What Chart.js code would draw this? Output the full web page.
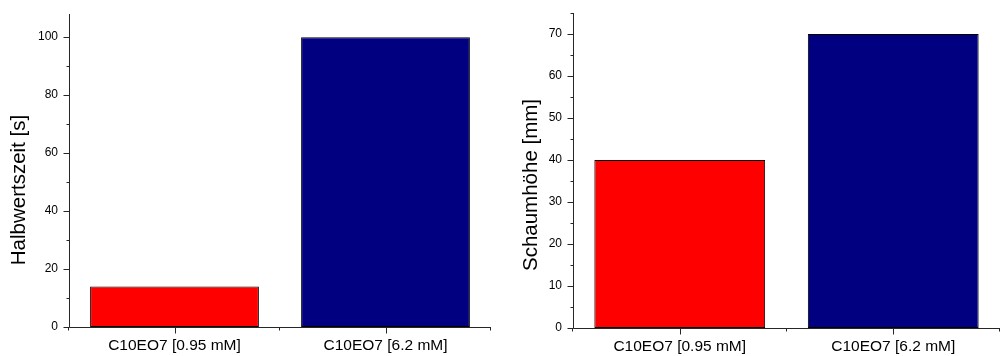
<!DOCTYPE html>
<html>
<head>
<meta charset="utf-8">
<script src="https://cdn.jsdelivr.net/npm/chart.js@4"></script>
<style>
  html, body { margin: 0; padding: 0; background: #fff; }
  #wrap { position: relative; width: 1000px; height: 356px; overflow: hidden; }
  .panel { position: absolute; top: 0; width: 500px; height: 356px; }
  #p1 { left: 0; }
  #p2 { left: 500px; }
</style>
</head>
<body>
<div id="wrap">
  <div class="panel" id="p1"><canvas id="c1" width="500" height="356"></canvas></div>
  <div class="panel" id="p2"><canvas id="c2" width="500" height="356"></canvas></div>
</div>
<script>
// Samples and measured values
const categories = ['C10EO7 [0.95 mM]', 'C10EO7 [6.2 mM]'];
const halbwertszeit = [14, 100];      // s
const schaumhoehe = [40, 70];         // mm
const barColors = ['#ff0000', '#000080'];

// Axis tick values
const halbwertszeitTicks = [0, 20, 40, 60, 80, 100];
const halbwertszeitMinor = [10, 30, 50, 70, 90];
const schaumhoeheTicks = [0, 10, 20, 30, 40, 50, 60, 70];
const schaumhoeheMinor = [5, 15, 25, 35, 45, 55, 65, 75];

const FONT = '"Liberation Sans", Arial, Helvetica, sans-serif';

// Draws the L-shaped axes with outward major/minor ticks and the rotated y title
const axesPlugin = {
  id: 'frameAxes',
  afterDraw(chart, args, opts) {
    const { ctx, chartArea: a, scales: { x, y } } = chart;
    const left = Math.round(a.left) + 0.5;
    const bottom = Math.round(a.bottom) + 0.5;
    ctx.save();
    ctx.strokeStyle = '#262626';
    ctx.lineWidth = 1;
    ctx.beginPath();
    ctx.moveTo(left, Math.round(a.top));
    ctx.lineTo(left, bottom);
    ctx.lineTo(Math.round(a.right), bottom);
    // y major / minor ticks
    opts.major.forEach(v => {
      const py = Math.round(y.getPixelForValue(v)) + 0.5;
      ctx.moveTo(left, py); ctx.lineTo(left - 6, py);
    });
    opts.minor.forEach(v => {
      const py = Math.round(y.getPixelForValue(v)) + 0.5;
      ctx.moveTo(left, py); ctx.lineTo(left - 3, py);
    });
    // x ticks: major at category centres, minor at category boundaries
    categories.forEach((c, i) => {
      const px = Math.round(x.getPixelForValue(i)) + 0.5;
      ctx.moveTo(px, bottom); ctx.lineTo(px, bottom + 6);
    });
    for (let i = 0; i <= categories.length; i++) {
      const px = Math.round(x.getPixelForValue(i - 0.5)) - 0.5;
      ctx.moveTo(px, bottom); ctx.lineTo(px, bottom + 3);
    }
    ctx.stroke();

    // rotated axis title
    ctx.fillStyle = '#000';
    ctx.font = '20.5px ' + FONT;
    ctx.textAlign = 'center';
    ctx.textBaseline = 'middle';
    ctx.translate(opts.titleX, opts.titleY);
    ctx.rotate(-Math.PI / 2);
    ctx.fillText(opts.title, 0, 0);
    ctx.restore();
  }
};

function makeChart(id, values, yMax, major, minor, title, dims) {
  return new Chart(document.getElementById(id), {
    type: 'bar',
    data: {
      labels: categories,
      datasets: [{
        data: values,
        backgroundColor: barColors,
        borderColor: '#000',
        borderWidth: 1,
        borderSkipped: false,
        barPercentage: 0.8,
        categoryPercentage: 1.0
      }]
    },
    options: {
      responsive: false,
      devicePixelRatio: 1,
      animation: false,
      events: [],
      layout: { padding: { top: dims.top, right: dims.right, bottom: 0, left: 0 } },
      plugins: {
        legend: { display: false },
        tooltip: { enabled: false },
        frameAxes: { major, minor, title, titleX: dims.titleX, titleY: dims.titleY }
      },
      scales: {
        x: {
          offset: true,
          grid: { display: false, drawTicks: false },
          border: { display: false },
          ticks: {
            padding: dims.xPad,
            maxRotation: 0,
            autoSkip: false,
            color: '#000',
            font: { family: FONT, size: 15.5 }
          },
          afterFit(s) {
            s.height = dims.xHeight;
            s.paddingLeft = 0; s.paddingRight = 0;
          }
        },
        y: {
          min: 0,
          max: yMax,
          grid: { display: false, drawTicks: false },
          border: { display: false },
          ticks: {
            padding: 11,
            color: '#000',
            font: { family: FONT, size: 12 }
          },
          afterBuildTicks(s) { s.ticks = major.map(v => ({ value: v })); },
          afterFit(s) {
            s.width = dims.yWidth;
            s.paddingTop = 0; s.paddingBottom = 0;
          }
        }
      }
    },
    plugins: [axesPlugin]
  });
}

makeChart('c1', halbwertszeit, 108, halbwertszeitTicks, halbwertszeitMinor, 'Halbwertszeit [s]',
  { top: 14, right: 9, yWidth: 69, xHeight: 29, xPad: 9.5, titleX: 19.5, titleY: 190 });

makeChart('c2', schaumhoehe, 75, schaumhoeheTicks, schaumhoeheMinor, 'Schaumhöhe [mm]',
  { top: 13, right: 0, yWidth: 73, xHeight: 28, xPad: 9.5, titleX: 31, titleY: 185 });
</script>
</body>
</html>
